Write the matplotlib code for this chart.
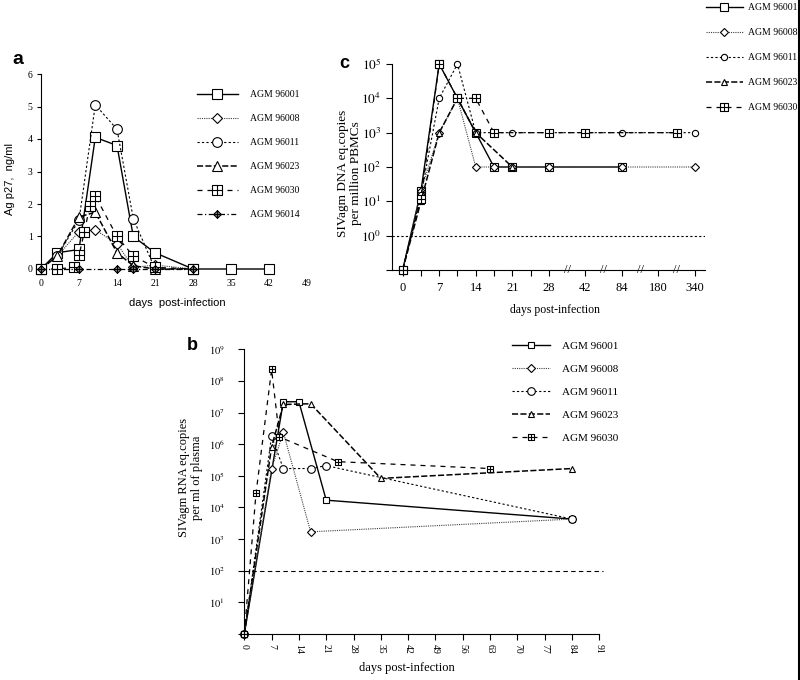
import numpy as np
import matplotlib
matplotlib.use("Agg")
import matplotlib.pyplot as plt
from matplotlib.path import Path
from matplotlib.lines import Line2D
from matplotlib.ticker import NullLocator, FixedLocator

plt.rcParams['mathtext.fontset'] = 'stix'
SERIF = 'Liberation Serif'
SANS = 'Liberation Sans'

names = ['AGM 96001', 'AGM 96008', 'AGM 96011', 'AGM 96023', 'AGM 96030', 'AGM 96014']

# --- panel a: Ag p27 (ng/ml) ---
a_days = {
    'AGM 96001': [0, 3, 7, 10, 14, 17, 21, 28, 35, 42],
    'AGM 96008': [0, 3, 7, 10, 14, 17, 21, 28],
    'AGM 96011': [0, 3, 7, 10, 14, 17, 21, 28],
    'AGM 96023': [0, 3, 7, 10, 14, 17, 21, 28],
    'AGM 96030': [0, 3, 6, 7, 8, 9, 10, 14, 17, 21, 28],
    'AGM 96014': [0, 7, 14, 17, 21, 28],
}
a_vals = {
    'AGM 96001': [0, 0.5, 0.6, 4.05, 3.8, 1.0, 0.5, 0, 0, 0],
    'AGM 96008': [0, 0.4, 1.15, 1.2, 0.78, 0.05, 0.12, 0],
    'AGM 96011': [0, 0.4, 1.5, 5.05, 4.3, 1.55, 0, 0],
    'AGM 96023': [0, 0.4, 1.6, 1.75, 0.5, 0.1, 0, 0],
    'AGM 96030': [0, 0, 0.05, 0.42, 1.15, 1.95, 2.25, 1.0, 0.4, 0.05, 0],
    'AGM 96014': [0, 0, 0, 0, 0, 0],
}

# --- panel c: proviral DNA, broken x axis (positions on axis) ---
c_tick_pos = [0, 2, 4, 6, 8, 10, 12, 14, 16]
c_tick_labels = ['0', '7', '14', '21', '28', '42', '84', '180', '340']
c_minor_pos = [1, 3, 5, 7]
c_break_pos = [9, 11, 13, 15]
c_pos = {
    'AGM 96001': [0, 1, 2, 3, 4, 5, 6, 8, 12],
    'AGM 96008': [0, 1, 2, 3, 4, 5, 6, 8, 12, 16],
    'AGM 96011': [0, 1, 2, 3, 4, 6, 12, 16],
    'AGM 96023': [0, 1, 2, 3, 4, 6],
    'AGM 96030': [0, 1, 2, 3, 4, 5, 8, 10, 15],
}
c_vals = {
    'AGM 96001': [0.1, 20, 1e5, 1e4, 1e3, 1e2, 1e2, 1e2, 1e2],
    'AGM 96008': [0.1, 20, 1e3, 1e4, 1e2, 1e2, 1e2, 1e2, 1e2, 1e2],
    'AGM 96011': [0.1, 15, 1e4, 1e5, 1e3, 1e3, 1e3, 1e3],
    'AGM 96023': [0.1, 10, 1e3, 1e4, 1e3, 1e2],
    'AGM 96030': [0.1, 12, 1e5, 1e4, 1e4, 1e3, 1e3, 1e3, 1e3],
}
c_limit = 1

# --- panel b: plasma RNA ---
b_days = {
    'AGM 96001': [0, 10, 14, 21, 84],
    'AGM 96008': [0, 7, 10, 17, 84],
    'AGM 96011': [0, 7, 10, 17, 21, 84],
    'AGM 96023': [0, 7, 10, 17, 35, 84],
    'AGM 96030': [0, 3, 7, 9, 24, 63],
}
b_vals = {
    'AGM 96001': [1, 2.2e7, 2.2e7, 1.7e4, 4.3e3],
    'AGM 96008': [1, 1.7e5, 2.4e6, 1.7e3, 4.3e3],
    'AGM 96011': [1, 1.8e6, 1.7e5, 1.7e5, 2.1e5, 4.3e3],
    'AGM 96023': [1, 8.3e5, 1.8e7, 1.9e7, 8.3e4, 1.7e5],
    'AGM 96030': [1, 2.8e4, 2.3e8, 1.7e6, 2.8e5, 1.7e5],
}
b_limit = 100

# marker shapes
grid_sq = Path([(-1, -1), (1, -1), (1, 1), (-1, 1), (-1, -1), (0, -1), (0, 1), (-1, 0), (1, 0)],
               [Path.MOVETO, Path.LINETO, Path.LINETO, Path.LINETO, Path.CLOSEPOLY,
                Path.MOVETO, Path.LINETO, Path.MOVETO, Path.LINETO])
cross_dia = Path([(0, -1), (1, 0), (0, 1), (-1, 0), (0, -1), (0, -1), (0, 1), (-1, 0), (1, 0)],
                 [Path.MOVETO, Path.LINETO, Path.LINETO, Path.LINETO, Path.CLOSEPOLY,
                  Path.MOVETO, Path.LINETO, Path.MOVETO, Path.LINETO])

style = {
    'AGM 96001': dict(marker='s', ls='-', lw=1.0, color='black'),
    'AGM 96008': dict(marker='D', ls=(0, (1, 1)), lw=0.8, color='0.25'),
    'AGM 96011': dict(marker='o', ls=(0, (2, 2)), lw=0.8, color='black'),
    'AGM 96023': dict(marker='^', ls=(0, (4, 1.5)), lw=1.1, color='black'),
    'AGM 96030': dict(marker=grid_sq, ls=(0, (4, 4)), lw=0.9, color='black'),
    'AGM 96014': dict(marker=cross_dia, ls=(0, (4, 2, 1, 2)), lw=0.9, color='black'),
}

fig = plt.figure(figsize=(8, 6.8), dpi=100)
W, H = 800.0, 680.0


def box(x0, y0, x1, y1):
    return [x0 / W, 1 - y1 / H, (x1 - x0) / W, (y1 - y0) / H]


# ================= panel a =================
ax_a = fig.add_axes(box(41, 74, 307, 269))
a_size = {'AGM 96001': 6.5, 'AGM 96008': 5.5, 'AGM 96011': 7, 'AGM 96023': 6.5,
          'AGM 96030': 6.5, 'AGM 96014': 5.5}
for n in names:
    st = style[n]
    mfc = '0.55' if n == 'AGM 96014' else 'white'
    ax_a.plot(a_days[n], a_vals[n], marker=st['marker'], ls=st['ls'], lw=st['lw'],
              color=st['color'], mec='black', mfc=mfc, ms=a_size[n], mew=0.8,
              clip_on=False, label=n)
ax_a.set_xlim(0, 49)
ax_a.set_ylim(0, 6)
ax_a.set_xticks(np.arange(0, 50, 7))
ax_a.set_yticks(range(7))
for s in ['top', 'right', 'bottom']:
    ax_a.spines[s].set_visible(False)
ax_a.spines['left'].set_linewidth(0.8)
ax_a.tick_params(axis='x', length=0, pad=7, labelsize=7)
ax_a.tick_params(axis='y', length=3, width=0.8, pad=3, labelsize=7)
for t in ax_a.get_xticklabels() + ax_a.get_yticklabels():
    t.set_family(SERIF)
ax_a.set_ylabel('Ag p27,  ng/ml', family=SANS, fontsize=8)
ax_a.yaxis.set_label_coords(-26 / 266, 0.46)
fig.text(177 / W, 1 - 303 / H, 'days  post-infection', family=SANS, fontsize=8,
         ha='center', va='center')
fig.text(18 / W, 1 - 60 / H, 'a', family=SANS, fontsize=14, weight='bold',
         ha='center', va='center')
ax_a.legend(loc='upper left', bbox_to_anchor=(197 / W, 1 - 90 / H),
            bbox_transform=fig.transFigure, frameon=False,
            prop={'family': SERIF, 'size': 7}, handlelength=4.2,
            handletextpad=1.2, labelspacing=1.55, borderpad=0, borderaxespad=0)

# ================= panel c =================
ax_c = fig.add_axes(box(391.7, 64, 705, 270))
c_size = {'AGM 96001': 5.5, 'AGM 96008': 4.5, 'AGM 96011': 4.5, 'AGM 96023': 4.5,
          'AGM 96030': 5.5}
for n in names[:5]:
    st = style[n]
    ax_c.plot(c_pos[n], c_vals[n], marker=st['marker'], ls=st['ls'], lw=st['lw'],
              color=st['color'], mec='black', mfc='white', ms=c_size[n], mew=0.8,
              clip_on=False, label=n)
ax_c.axhline(c_limit, ls=(0, (2, 2)), lw=0.8, color='black')
ax_c.set_yscale('log')
ax_c.set_xlim(-0.6, 16.55)
ax_c.set_ylim(0.1, 1e5)
ax_c.yaxis.set_major_locator(FixedLocator([0.1, 1, 10, 100, 1e3, 1e4, 1e5]))
ax_c.yaxis.set_minor_locator(NullLocator())
ax_c.set_yticklabels(['', '$10^0$', '$10^1$', '$10^2$', '$10^3$', '$10^4$', '$10^5$'])
ax_c.set_xticks(c_tick_pos)
ax_c.set_xticklabels(c_tick_labels)
ax_c.xaxis.set_minor_locator(FixedLocator(c_minor_pos))
for s in ['top', 'right']:
    ax_c.spines[s].set_visible(False)
ax_c.tick_params(which='both', length=4, width=0.8, labelsize=9.5)
ax_c.tick_params(axis='x', pad=5, labelsize=9)
for t in ax_c.get_xticklabels():
    t.set_family(SERIF)
for p in c_break_pos:
    ax_c.text(p, 0, '//', transform=ax_c.get_xaxis_transform(), ha='center',
              va='center', fontsize=9, family=SERIF, clip_on=False)
ax_c.set_ylabel('SIVagm DNA eq.copies\nper million PBMCs', family=SERIF, fontsize=9.5,
                linespacing=1.1)
ax_c.yaxis.set_label_coords(-30 / 313.3, 0.47)
fig.text(555 / W, 1 - 310 / H, 'days post-infection', family=SERIF, fontsize=8.5,
         ha='center', va='center')
fig.text(344 / W, 1 - 63 / H, 'c', family=SANS, fontsize=13, weight='bold',
         ha='center', va='center')
ax_c.legend(loc='upper left', bbox_to_anchor=(706 / W, 1 - 3 / H),
            bbox_transform=fig.transFigure, frameon=False,
            prop={'family': SERIF, 'size': 7}, handlelength=3.8,
            handletextpad=0.5, labelspacing=1.65, borderpad=0, borderaxespad=0)

# ================= panel b =================
ax_b = fig.add_axes(box(244.3, 349.3, 599.3, 634))
b_size = {'AGM 96001': 5, 'AGM 96008': 4.5, 'AGM 96011': 5.5, 'AGM 96023': 4.5,
          'AGM 96030': 5}
for n in names[:5]:
    st = style[n]
    ax_b.plot(b_days[n], b_vals[n], marker=st['marker'], ls=st['ls'], lw=st['lw'],
              color=st['color'], mec='black', mfc='white', ms=b_size[n], mew=0.8,
              clip_on=False, label=n)
ax_b.plot([0, 92], [b_limit, b_limit], ls=(0, (4, 3)), lw=0.8, color='black', clip_on=False)
ax_b.set_yscale('log')
ax_b.set_xlim(0, 91)
ax_b.set_ylim(1, 1e9)
ax_b.yaxis.set_major_locator(FixedLocator([10.0 ** k for k in range(10)]))
ax_b.yaxis.set_minor_locator(NullLocator())
ax_b.set_yticklabels([''] + ['$10^{%d}$' % k for k in range(1, 10)])
ax_b.set_xticks(np.arange(0, 92, 7))
for s in ['top', 'right']:
    ax_b.spines[s].set_visible(False)
ax_b.tick_params(which='both', length=4, width=0.8, labelsize=7.5)
ax_b.tick_params(axis='y', pad=10)
ax_b.tick_params(axis='x', labelrotation=-90, labelsize=7, pad=3)
for t in ax_b.get_xticklabels():
    t.set_family(SERIF)
ax_b.set_ylabel('SIVagm RNA eq.copies\nper ml of plasma', family=SERIF, fontsize=9,
                linespacing=1.1)
ax_b.yaxis.set_label_coords(-41 / 355, 0.55)
fig.text(407 / W, 1 - 668 / H, 'days post-infection', family=SERIF, fontsize=9,
         ha='center', va='center')
fig.text(192 / W, 1 - 345 / H, 'b', family=SANS, fontsize=13, weight='bold',
         ha='center', va='center')
ax_b.legend(loc='upper left', bbox_to_anchor=(512 / W, 1 - 341 / H),
            bbox_transform=fig.transFigure, frameon=False,
            prop={'family': SERIF, 'size': 8}, handlelength=3.4,
            handletextpad=1.1, labelspacing=1.2, borderpad=0, borderaxespad=0)

# right border line of the scanned figure
fig.add_artist(Line2D([0.9985, 0.9985], [0, 1], transform=fig.transFigure,
                      color='black', lw=1.5))

fig.savefig('out.png', dpi=100, facecolor='white')
